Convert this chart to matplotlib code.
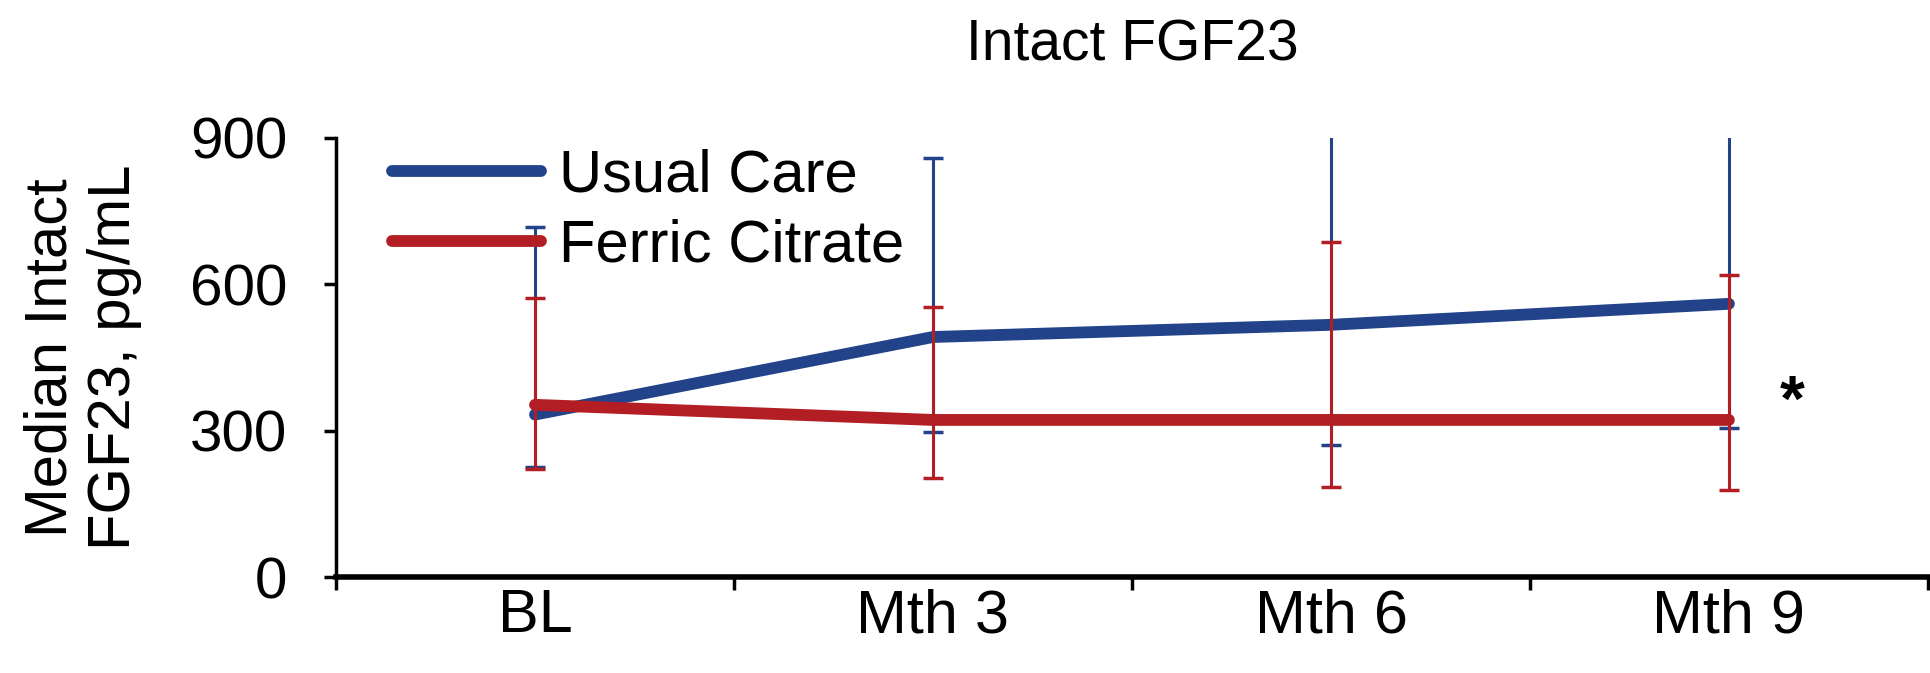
import numpy as np
import matplotlib.pyplot as plt
from matplotlib import font_manager

visits = ['BL', 'Mth 3', 'Mth 6', 'Mth 9']

# median intact FGF23 with interquartile range, pg/mL
usual_care = [333, 492, 517, 560]
usual_care_low = [225, 297, 270, 305]
usual_care_high = [717, 859, 1000, 1000]

ferric_citrate = [353, 322, 322, 322]
ferric_citrate_low = [222, 203, 185, 178]
ferric_citrate_high = [571, 553, 687, 620]

blue = '#22438a'
red = '#b31e24'

names = {f.name for f in font_manager.fontManager.ttflist}
narrow = 'Liberation Sans Narrow' if 'Liberation Sans Narrow' in names else 'Liberation Sans'
plt.rcParams['font.family'] = ['Liberation Sans', 'DejaVu Sans']

fig = plt.figure(figsize=(19.31, 6.73), dpi=100)
ax = fig.add_axes([0.174, 0.1426, 0.8244, 0.6524])

x = np.arange(len(visits)) + 0.5

ax.plot(x, usual_care, color=blue, lw=8.5, solid_capstyle='round',
        solid_joinstyle='round', label='Usual Care', zorder=2)
ax.plot(x, ferric_citrate, color=red, lw=8.5, solid_capstyle='round',
        solid_joinstyle='round', label='Ferric Citrate', zorder=3)

uc = np.array(usual_care)
fc = np.array(ferric_citrate)
ax.errorbar(x, uc, yerr=[uc - np.array(usual_care_low), np.array(usual_care_high) - uc],
            fmt='none', ecolor=blue, elinewidth=2.2, capsize=7, capthick=2.5, zorder=4)
ax.errorbar(x, fc, yerr=[fc - np.array(ferric_citrate_low), np.array(ferric_citrate_high) - fc],
            fmt='none', ecolor=red, elinewidth=2.2, capsize=7, capthick=2.5, zorder=5)

# significance marker next to month 9
ax.text(3.66, 356, '*', fontsize=46, fontweight='bold', ha='center', va='center')

ax.set_xlim(0, 4)
ax.set_ylim(0, 900)
ax.set_yticks([0, 300, 600, 900])
ax.set_xticks(np.arange(5))
ax.set_xticklabels([])
ax.set_xticks(x, minor=True)
ax.set_xticklabels(visits, minor=True, fontsize=44, fontfamily=narrow)
ax.tick_params(axis='x', which='major', length=9, width=2.5, direction='out')
ax.tick_params(axis='x', which='minor', length=0, pad=8)
ax.tick_params(axis='y', length=9, width=2.5, direction='out', labelsize=42, pad=26)

for side in ['top', 'right']:
    ax.spines[side].set_visible(False)
ax.spines['left'].set_linewidth(2.5)
ax.spines['bottom'].set_linewidth(4)

ax.set_ylabel('Median Intact\nFGF23, pg/mL', fontsize=43)
ax.yaxis.set_label_coords(-0.122, 0.5)
ax.set_title('Intact FGF23', fontsize=41, pad=56)

ax.legend(loc='upper left', bbox_to_anchor=(0.02, 1.03), frameon=False, fontsize=43,
          handlelength=2.5, handletextpad=0.3, labelspacing=0.25, borderaxespad=0)

fig.savefig('out.png', dpi=100)
